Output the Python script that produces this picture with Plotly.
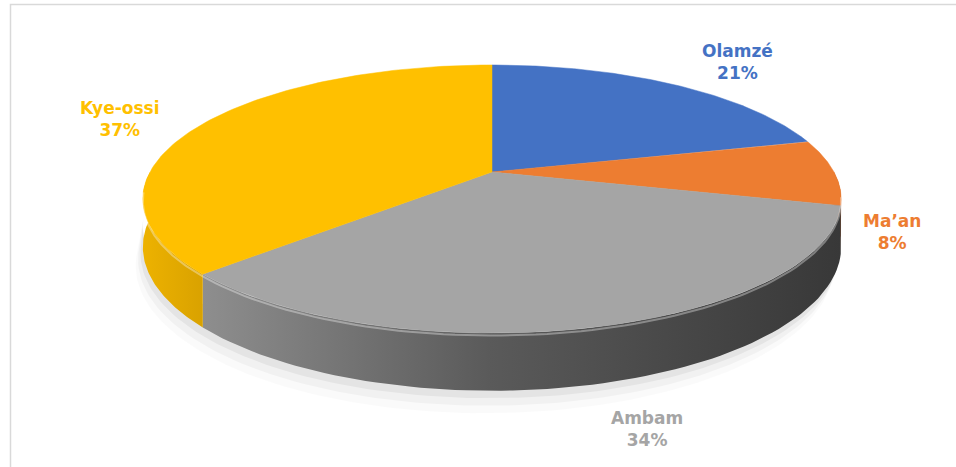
import numpy as np
import plotly.graph_objects as go

# ---- data ----
categories = ["Olamzé", "Ma’an", "Ambam", "Kye-ossi"]
values = [21, 8, 34, 37]
top_colors = ["#4472C4", "#ED7D31", "#A5A5A5", "#FFC000"]
side_scales = [
    [[0, "#3A62A8"], [1, "#2C4E8A"]],
    [[0, "#C9662A"], [1, "#A8521F"]],
    [[0, "#8E8E8E"], [0.45, "#5A5A5A"], [1, "#383838"]],
    [[0, "#EDB200"], [1, "#D9A200"]],
]
label_pos = [(737, 62), (892, 232), (647, 429), (120, 119)]

# ---- geometry (3D perspective pie) ----
W, H = 956, 467
CX, CY = 492, 172
A, B = 342, 128.6
D = 4.96
DEPTH = 46


def proj(theta_deg, drop=0.0):
    t = np.radians(theta_deg)
    c, s = np.cos(t), np.sin(t)
    f = D / (D + c)
    return CX + A * s * f, CY - B * c * f + drop * f


total = float(sum(values))
ends = np.cumsum(values) / total * 360.0
starts = np.concatenate([[0.0], ends[:-1]])

fig = go.Figure()

# soft shadow under pie
for k, op in [(18, 0.02), (12, 0.035), (6, 0.05)]:
    th = np.linspace(100, 262, 120)
    xs, ys = proj(th, DEPTH + k)
    xt, yt = proj(th[::-1], DEPTH - 20)
    xs = np.concatenate([xs - k * 0.4, xt])
    ys = np.concatenate([ys, yt])
    fig.add_trace(go.Scatter(x=xs, y=ys, fill="toself", mode="lines",
                             line=dict(width=0), fillcolor=f"rgba(0,0,0,{op})",
                             hoverinfo="skip"))

# side walls (front half only)
for i in range(len(values)):
    lo, hi = max(starts[i], 90.0), min(ends[i], 270.0)
    if hi <= lo:
        continue
    th = np.linspace(lo, hi, 80)
    xt, yt = proj(th, 0)
    xb, yb = proj(th[::-1], DEPTH)
    fig.add_trace(go.Scatter(
        x=np.concatenate([xt, xb]), y=np.concatenate([yt, yb]),
        fill="toself", mode="lines", line=dict(width=0),
        fillgradient=dict(type="horizontal", colorscale=side_scales[i]),
        hoverinfo="skip"))

# top surfaces
for i in range(len(values)):
    th = np.linspace(starts[i], ends[i], 120)
    xa, ya = proj(th, 0)
    xs = np.concatenate([[CX], xa, [CX]])
    ys = np.concatenate([[CY], ya, [CY]])
    fig.add_trace(go.Scatter(x=xs, y=ys, fill="toself", mode="lines",
                             line=dict(width=0.5, color=top_colors[i]),
                             fillcolor=top_colors[i], hoverinfo="skip"))

# rim highlight on front edge
for i in range(len(values)):
    lo, hi = max(starts[i], 100.0), min(ends[i], 262.0)
    if hi <= lo:
        continue
    th = np.linspace(lo, hi, 80)
    xr, yr = proj(th, 2)
    fig.add_trace(go.Scatter(x=xr, y=yr, mode="lines",
                             line=dict(width=2, color="rgba(255,255,255,0.35)"),
                             hoverinfo="skip"))

# labels
for i, name in enumerate(categories):
    pct = round(values[i] / total * 100)
    fig.add_annotation(x=label_pos[i][0], y=label_pos[i][1],
                       text=f"<b>{name}<br>{pct}%</b>", showarrow=False,
                       font=dict(family="DejaVu Sans", size=17, color=top_colors[i]),
                       align="center", xanchor="center", yanchor="middle")

fig.add_shape(type="rect", x0=10.5, y0=4.5, x1=990, y1=500,
              line=dict(color="#D9D9D9", width=1.5), layer="below")

fig.update_layout(
    width=W, height=H, margin=dict(l=0, r=0, t=0, b=0),
    paper_bgcolor="white", plot_bgcolor="white", showlegend=False,
    xaxis=dict(range=[0, W], visible=False, fixedrange=True),
    yaxis=dict(range=[H, 0], visible=False, fixedrange=True),
)

fig.write_html("out.html")
